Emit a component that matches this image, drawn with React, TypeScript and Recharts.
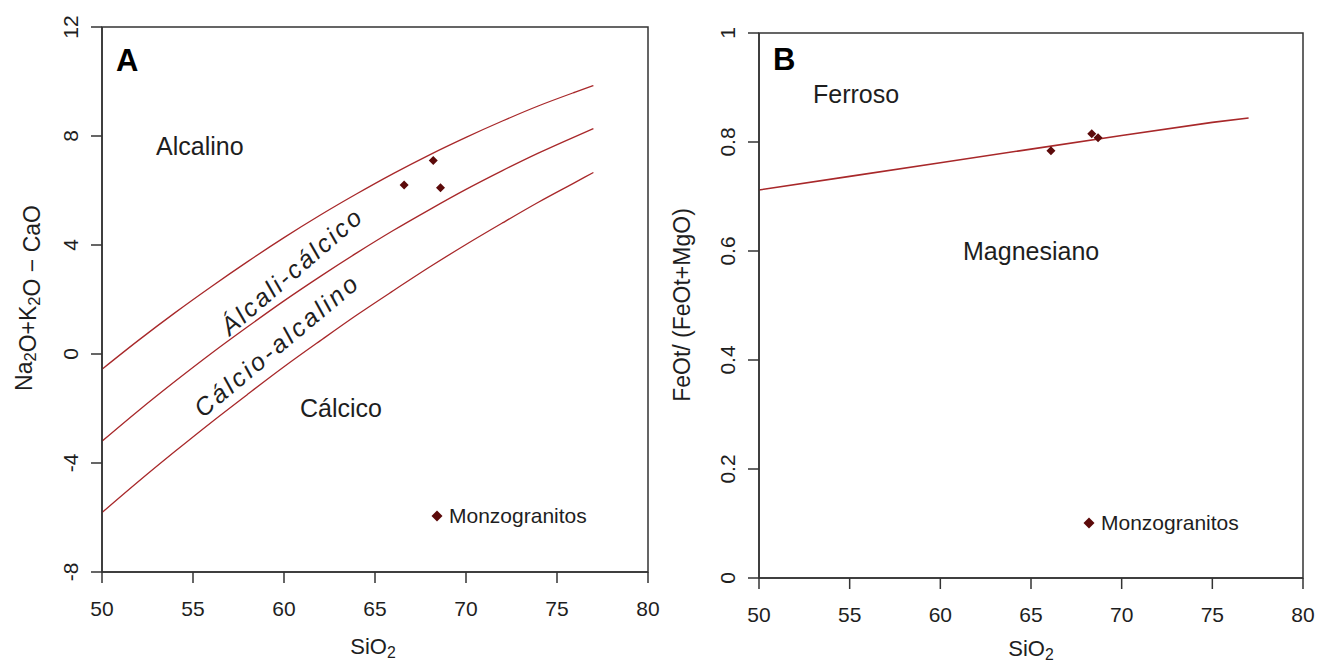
import React from "react"
import {
    ComposedChart, Line, Scatter, XAxis, YAxis, ReferenceArea, ReferenceDot, Legend, Label,
} from "recharts"

// Painel A: limites MALI (Na2O+K2O-CaO vs SiO2)
const sio2Grid = [50, 52, 54, 56, 58, 60, 62, 64, 66, 68, 70, 72, 74, 76, 77]
const alcalinoLimit = [-0.56, 0.5, 1.51, 2.47, 3.39, 4.27, 5.1, 5.88, 6.62, 7.31, 7.95, 8.55, 9.11, 9.61, 9.85]
const alcaliCalcicoLimit = [-3.2, -2.08, -1.01, 0.02, 1.0, 1.95, 2.85, 3.71, 4.53, 5.3, 6.04, 6.73, 7.38, 7.98, 8.27]
const calcioAlcalinoLimit = [-5.82, -4.68, -3.58, -2.51, -1.48, -0.47, 0.49, 1.43, 2.32, 3.19, 4.02, 4.81, 5.58, 6.3, 6.66]

const monzoSiO2A = [66.6, 68.2, 68.6]
const monzoMali = [6.2, 7.1, 6.1]

// Painel B: FeOt/(FeOt+MgO) vs SiO2
const feSiO2 = [50, 55, 60, 65, 70, 75, 77]
const feLimit = [0.712, 0.737, 0.762, 0.787, 0.812, 0.836, 0.844]

const monzoSiO2B = [66.1, 68.35, 68.7]
const monzoFe = [0.784, 0.815, 0.808]

const xTicks = [50, 55, 60, 65, 70, 75, 80]
const yTicksA = [-8, -4, 0, 4, 8, 12]
const yTicksB = [0, 0.2, 0.4, 0.6, 0.8, 1]

const FONT = '"Liberation Sans", Arial, sans-serif'
const INK = "#1e1e1e"
const AXIS = "#333"
const LINE = "#a8282a"
const POINT = "#5c0a0a"

const zip = (xs: number[], ys: number[]) => xs.map((x, i) => ({ x, y: ys[i] }))

const limitA1 = zip(sio2Grid, alcalinoLimit)
const limitA2 = zip(sio2Grid, alcaliCalcicoLimit)
const limitA3 = zip(sio2Grid, calcioAlcalinoLimit)
const pointsA = zip(monzoSiO2A, monzoMali)
const limitB = zip(feSiO2, feLimit)
const pointsB = zip(monzoSiO2B, monzoFe)

const Diamond = (props: any) => {
    const { cx, cy } = props
    const s = 4.5
    return <polygon points={`${cx},${cy - s} ${cx + s},${cy} ${cx},${cy + s} ${cx - s},${cy}`} fill={POINT} />
}

const RotTick = (props: any) => {
    const { x, y, payload } = props
    return (
        <text x={x} y={y} transform={`rotate(-90 ${x} ${y})`} textAnchor="middle"
            fontSize={21} fontFamily={FONT} fill={INK}>
            {payload.value}
        </text>
    )
}

const note = (text: string, opts: any = {}) => ({
    content: (p: any) => {
        const { x, y } = p.viewBox
        const { size = 25, rotate, ...rest } = opts
        return (
            <text x={x} y={y} fontSize={size} fontFamily={FONT} fill={INK}
                transform={rotate ? `rotate(${rotate} ${x} ${y})` : undefined} {...rest}>
                {text}
            </text>
        )
    },
})

const Sub = ({ children }: any) => (
    <>
        <tspan dy={4} fontSize="0.72em">{children}</tspan>
        <tspan dy={-4}></tspan>
    </>
)

const LegendBox = () => (
    <div style={{ display: "flex", alignItems: "center", fontFamily: FONT, fontSize: 21, color: INK, lineHeight: "24px" }}>
        <svg width={12} height={12}>
            <polygon points="6,0.5 11.5,6 6,11.5 0.5,6" fill={POINT} />
        </svg>
        <span style={{ marginLeft: 6 }}>Monzogranitos</span>
    </div>
)

const tickStyle = { fontSize: 21, fill: INK, fontFamily: FONT }

function PanelA() {
    return (
        <ComposedChart width={680} height={667} margin={{ top: 27, right: 32, bottom: 0, left: 0 }}>
            <XAxis type="number" dataKey="x" domain={[50, 80]} ticks={xTicks} allowDataOverflow
                height={95} tickSize={11} tickMargin={18} tick={tickStyle}
                axisLine={{ stroke: AXIS, strokeWidth: 1.5 }} tickLine={{ stroke: AXIS, strokeWidth: 1.5 }}>
                <Label content={() => (
                    <text x={373} y={654} textAnchor="middle" fontSize={22} fontFamily={FONT} fill={INK}>
                        SiO<Sub>2</Sub>
                    </text>
                )} />
            </XAxis>
            <YAxis type="number" dataKey="y" domain={[-8, 12]} ticks={yTicksA} allowDataOverflow
                width={102} tickSize={11} tickMargin={13} tick={<RotTick />}
                axisLine={{ stroke: AXIS, strokeWidth: 1.5 }} tickLine={{ stroke: AXIS, strokeWidth: 1.5 }}>
                <Label content={() => (
                    <text x={32} y={298} transform="rotate(-90 32 298)" textAnchor="middle"
                        fontSize={23} fontFamily={FONT} fill={INK}>
                        Na<Sub>2</Sub>O+K<Sub>2</Sub>O − CaO
                    </text>
                )} />
            </YAxis>
            <ReferenceArea x1={50} x2={80} y1={-8} y2={12} fill="none" stroke={AXIS} strokeWidth={1.5} />

            <Line data={limitA1} dataKey="y" type="monotone" stroke={LINE} strokeWidth={1.3} dot={false} isAnimationActive={false} legendType="none" />
            <Line data={limitA2} dataKey="y" type="monotone" stroke={LINE} strokeWidth={1.3} dot={false} isAnimationActive={false} legendType="none" />
            <Line data={limitA3} dataKey="y" type="monotone" stroke={LINE} strokeWidth={1.3} dot={false} isAnimationActive={false} legendType="none" />
            <Scatter name="Monzogranitos" data={pointsA} dataKey="y" shape={<Diamond />} isAnimationActive={false} />

            <ReferenceDot x={50.77} y={10.37} r={0} fill="none" stroke="none" label={note("A", { size: 31, fontWeight: "bold", fill: "#000" })} />
            <ReferenceDot x={52.97} y={7.3} r={0} fill="none" stroke="none" label={note("Alcalino")} />
            <ReferenceDot x={60.88} y={-2.32} r={0} fill="none" stroke="none" label={note("Cálcico")} />
            <ReferenceDot x={60.42} y={3.05} r={0} fill="none" stroke="none"
                label={note("Álcali-cálcico", { rotate: -41, textAnchor: "middle", dominantBaseline: "central", fontStyle: "italic", letterSpacing: 2.5 })} />
            <ReferenceDot x={59.6} y={0.33} r={0} fill="none" stroke="none"
                label={note("Cálcio-alcalino", { rotate: -40, textAnchor: "middle", dominantBaseline: "central", fontStyle: "italic", letterSpacing: 3 })} />

            <Legend layout="vertical" align="center" verticalAlign="middle" content={<LegendBox />}
                wrapperStyle={{ left: 431, top: 504, width: "auto", height: "auto" }} />
        </ComposedChart>
    )
}

function PanelB() {
    return (
        <ComposedChart width={677} height={667} margin={{ top: 33, right: 24, bottom: 0, left: 0 }}>
            <XAxis type="number" dataKey="x" domain={[50, 80]} ticks={xTicks} allowDataOverflow
                height={89} tickSize={11} tickMargin={18} tick={tickStyle}
                axisLine={{ stroke: AXIS, strokeWidth: 1.5 }} tickLine={{ stroke: AXIS, strokeWidth: 1.5 }}>
                <Label content={() => (
                    <text x={381} y={656} textAnchor="middle" fontSize={22} fontFamily={FONT} fill={INK}>
                        SiO<Sub>2</Sub>
                    </text>
                )} />
            </XAxis>
            <YAxis type="number" dataKey="y" domain={[0, 1]} ticks={yTicksB} allowDataOverflow
                width={109} tickSize={11} tickMargin={13} tick={<RotTick />}
                axisLine={{ stroke: AXIS, strokeWidth: 1.5 }} tickLine={{ stroke: AXIS, strokeWidth: 1.5 }}>
                <Label content={() => (
                    <text x={40} y={305} transform="rotate(-90 40 305)" textAnchor="middle"
                        fontSize={23} fontFamily={FONT} fill={INK}>
                        FeOt/ (FeOt+MgO)
                    </text>
                )} />
            </YAxis>
            <ReferenceArea x1={50} x2={80} y1={0} y2={1} fill="none" stroke={AXIS} strokeWidth={1.5} />

            <Line data={limitB} dataKey="y" type="linear" stroke={LINE} strokeWidth={1.6} dot={false} isAnimationActive={false} legendType="none" />
            <Scatter name="Monzogranitos" data={pointsB} dataKey="y" shape={<Diamond />} isAnimationActive={false} />

            <ReferenceDot x={50.77} y={0.932} r={0} fill="none" stroke="none" label={note("B", { size: 31, fontWeight: "bold", fill: "#000" })} />
            <ReferenceDot x={52.98} y={0.8716} r={0} fill="none" stroke="none" label={note("Ferroso")} />
            <ReferenceDot x={61.25} y={0.5835} r={0} fill="none" stroke="none" label={note("Magnesiano")} />

            <Legend layout="vertical" align="center" verticalAlign="middle" content={<LegendBox />}
                wrapperStyle={{ left: 433, top: 511, width: "auto", height: "auto" }} />
        </ComposedChart>
    )
}

export default function App() {
    return (
        <div style={{ position: "absolute", left: 0, top: 0, width: 1327, height: 667, background: "#fff" }}>
            <div style={{ position: "absolute", left: 0, top: 0 }}>
                <PanelA />
            </div>
            <div style={{ position: "absolute", left: 650, top: 0 }}>
                <PanelB />
            </div>
        </div>
    )
}
